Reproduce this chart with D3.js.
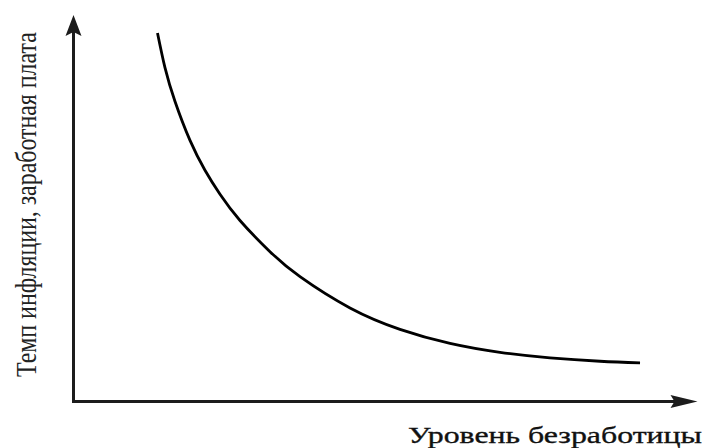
<!DOCTYPE html>
<html>
<head>
<meta charset="utf-8">
<script src="https://cdn.jsdelivr.net/npm/d3@7"></script>
<style>
  html, body { margin: 0; padding: 0; background: #fff; }
  svg { display: block; }
</style>
</head>
<body>
<svg id="chart" width="707" height="448"></svg>
<script>
// Phillips curve: inflation / wage growth against unemployment (relative units 0–100)
const unemployment = [13.46, 14.66, 16.27, 18.67, 21.07, 23.48, 26.68, 31.49, 36.30, 44.31, 52.32, 60.34, 68.35, 76.36, 84.38, 90.79];
const inflation    = [95.34, 86.38, 77.61, 67.55, 59.83, 53.62, 46.84, 38.77, 32.29, 24.20, 18.67, 15.03, 12.72, 11.28, 10.41, 10.01];
const xAxisLabel = "Уровень безработицы";
const yAxisLabel = "Темп инфляции, заработная плата";

const svg = d3.select("#chart");

const x = d3.scaleLinear().domain([0, 100]).range([73.5, 697.5]);
const y = d3.scaleLinear().domain([0, 100]).range([401.5, 15]);

const axisColor = "#1c1c1c";

// axis lines
svg.append("line")
  .attr("x1", x(0) - 1.5).attr("y1", y(0))
  .attr("x2", x(100) - 20).attr("y2", y(0))
  .attr("stroke", axisColor).attr("stroke-width", 3);

svg.append("line")
  .attr("x1", x(0)).attr("y1", y(0) + 1.5)
  .attr("x2", x(0)).attr("y2", y(100) + 16)
  .attr("stroke", axisColor).attr("stroke-width", 3);

// arrowheads
const xt = [x(100), y(0)];
svg.append("path")
  .attr("d", `M${xt[0]},${xt[1]} L${xt[0] - 27},${xt[1] - 6.5} L${xt[0] - 23},${xt[1]} L${xt[0] - 27},${xt[1] + 6.5} Z`)
  .attr("fill", axisColor);

const yt = [x(0), y(100)];
svg.append("path")
  .attr("d", `M${yt[0]},${yt[1]} L${yt[0] - 8},${yt[1] + 21} L${yt[0]},${yt[1] + 17} L${yt[0] + 8},${yt[1] + 21} Z`)
  .attr("fill", axisColor);

// curve
const pts = unemployment.map((u, i) => [u, inflation[i]]);
const line = d3.line()
  .x(d => x(d[0]))
  .y(d => y(d[1]))
  .curve(d3.curveNatural);

svg.append("path")
  .datum(pts)
  .attr("d", line)
  .attr("fill", "none")
  .attr("stroke", "#000")
  .attr("stroke-width", 2.8);

// axis titles
svg.append("text")
  .attr("x", 408).attr("y", 443)
  .attr("font-family", "'Liberation Serif', 'DejaVu Serif', serif")
  .attr("font-size", 23)
  .attr("fill", "#111")
  .attr("stroke", "#111").attr("stroke-width", 0.35)
  .attr("textLength", 294)
  .attr("lengthAdjust", "spacingAndGlyphs")
  .text(xAxisLabel);

// vertical title, narrowed along its reading direction to fit the axis height
const yTitle = svg.append("text")
  .attr("font-family", "'Liberation Serif', serif")
  .attr("font-size", 29)
  .attr("fill", "#222")
  .text(yAxisLabel);
const natural = yTitle.node().getComputedTextLength();
const squeeze = 345 / natural;
yTitle.attr("transform", `translate(36,377) rotate(-90) scale(${squeeze},1)`);
</script>
</body>
</html>
